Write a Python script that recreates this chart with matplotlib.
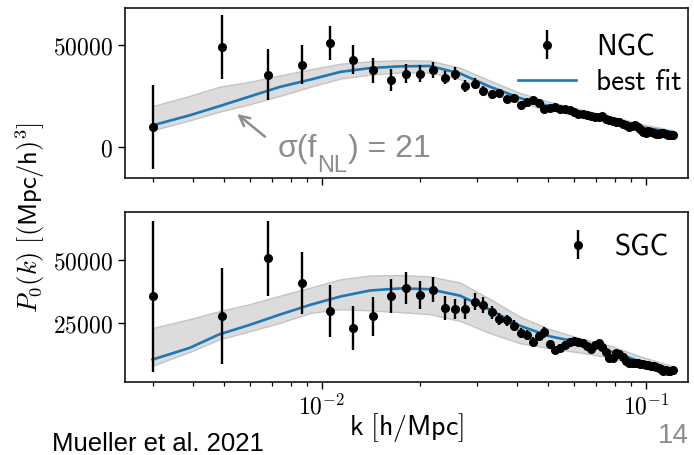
import numpy as np
import matplotlib
matplotlib.use('Agg')
import matplotlib.pyplot as plt
from matplotlib.ticker import FuncFormatter, LogLocator, NullFormatter

plt.rcParams['mathtext.fontset'] = 'cm'
plt.rcParams['font.family'] = ['DejaVu Sans']

# ---------------- data ----------------
k = [0.0030, 0.0049, 0.0068, 0.0087, 0.0106, 0.0125, 0.0144, 0.0163, 0.0182, 0.0201,
     0.0220, 0.0239, 0.0258, 0.0277, 0.0296, 0.0315, 0.0334, 0.0353, 0.0372, 0.0391,
     0.0410, 0.0429, 0.0448, 0.0467, 0.0486, 0.0505, 0.0524, 0.0543, 0.0562, 0.0581,
     0.0600, 0.0619, 0.0638, 0.0657, 0.0676, 0.0695, 0.0714, 0.0733, 0.0752, 0.0771,
     0.0790, 0.0809, 0.0828, 0.0847, 0.0866, 0.0885, 0.0904, 0.0923, 0.0942, 0.0961,
     0.0980, 0.0999, 0.1018, 0.1037, 0.1056, 0.1075, 0.1094, 0.1113, 0.1132, 0.1151,
     0.1170, 0.1189, 0.1208]

ngc_p = [9800, 49000, 35500, 40400, 51000, 42800, 37600, 32700, 36000, 36000,
         37600, 34000, 36000, 29700, 31000, 27400, 25800, 26500, 23700, 24200,
         20400, 22000, 22900, 21600, 18800, 19300, 19800, 18800, 18800, 18300,
         17000, 16000, 16000, 15600, 15000, 14500, 14500, 15000, 13900, 13300,
         12900, 12300, 12000, 11400, 11000, 10000, 10300, 10600, 9800, 8800,
         7400, 7000, 7600, 7400, 6800, 6600, 6600, 6700, 6900, 6500,
         6000, 5700, 5700]
ngc_err = [20800, 15500, 12400, 9600, 8300, 7100, 6200, 5500, 4800, 4300,
           4000, 3300, 3300, 2900, 2600, 2400, 2200, 2100, 2000, 1900,
           1800, 1700, 1600, 1500, 1450, 1400, 1350, 1300, 1250, 1200,
           1150, 1100, 1100, 1050, 1000, 1000, 950, 950, 900, 900,
           900, 850, 850, 850, 800, 800, 800, 750, 750, 750,
           700, 700, 700, 700, 650, 650, 650, 650, 600, 600,
           600, 600, 600]

sgc_p = [35500, 27900, 50600, 40800, 29800, 23000, 27600, 35800, 38800, 36200,
         38200, 30900, 30500, 30500, 33500, 32200, 29200, 26600, 26000, 23900,
         21000, 20400, 17500, 19700, 21300, 16500, 14200, 15200, 16300, 17300,
         17700, 17600, 17000, 16000, 14500, 16200, 16900, 15600, 13600, 11200,
         11000, 13200, 12800, 11500, 10000, 9300, 9300, 9100, 9000, 8800,
         8700, 8500, 8200, 8000, 7800, 7600, 7100, 6800, 6000, 6200,
         6000, 5800, 6200]
sgc_err = [30000, 19000, 14900, 12200, 10300, 8700, 7700, 6800, 6300, 5600,
           4900, 4600, 4100, 4000, 3300, 3200, 2600, 2400, 2300, 2200,
           2100, 2000, 1900, 1800, 2300, 1700, 1650, 1600, 1550, 1500,
           1450, 1400, 1350, 1300, 1250, 1200, 1200, 1150, 1100, 1100,
           1050, 1000, 1000, 950, 950, 900, 900, 900, 850, 850,
           800, 800, 800, 750, 750, 750, 700, 700, 700, 700,
           650, 650, 650]

model_k = [0.0030, 0.0039, 0.0048, 0.0060, 0.0074, 0.0092, 0.0114, 0.0141, 0.0174,
           0.0215, 0.0267, 0.0330, 0.0408, 0.0505, 0.0625, 0.0774, 0.0958, 0.1212]
ngc_fit = [10600, 15500, 19900, 24800, 29400, 33000, 36800, 38700, 39500,
           39700, 36000, 29500, 24000, 19900, 16700, 13600, 9800, 7200]
ngc_hi = [20000, 25000, 29400, 32000, 35000, 38000, 40800, 42000, 42500,
          42300, 38800, 32500, 26500, 22000, 18500, 15200, 11300, 8200]
ngc_lo = [8200, 13000, 17200, 21000, 25000, 29500, 33500, 35500, 36500,
          36500, 33200, 26500, 21500, 18000, 15000, 12000, 8300, 6000]
sgc_fit = [10500, 15100, 20400, 24300, 28300, 32200, 35500, 37900, 38700,
           38400, 35800, 30250, 23900, 19700, 17300, 13800, 9800, 6550]
sgc_hi = [23000, 26500, 29600, 32500, 35800, 39000, 42300, 43800, 44000,
          43500, 41000, 34500, 27500, 22500, 19000, 16000, 11800, 7800]
sgc_lo = [8100, 13500, 18400, 21800, 25000, 29000, 30500, 30000, 29300,
          28500, 25800, 21000, 17000, 15000, 13300, 11300, 8300, 5700]

ngc_yticks = [0, 50000]
sgc_yticks = [25000, 50000]

# ---------------- figure ----------------
W, H = 694, 455
fig = plt.figure(figsize=(W / 100, H / 100), dpi=100)
ax1 = fig.add_axes([125 / W, 1 - 178 / H, 563 / W, 170 / H])
ax2 = fig.add_axes([125 / W, 1 - 382 / H, 563 / W, 170 / H], sharex=ax1)

blue = '#1f77b4'
band_c = '#dcdcdc'
grey = '#8c8c8c'
sans = {'family': 'cmss10', 'size': 21}


def panel(ax, p, err, fit, lo, hi, label):
    ax.fill_between(model_k, lo, hi, facecolor=band_c, edgecolor='#c4c4c4',
                    linewidth=1.0, zorder=1)
    ln, = ax.plot(model_k, fit, color=blue, lw=1.9, zorder=2, label='best fit')
    eb = ax.errorbar(k, p, yerr=err, fmt='o', color='k', ms=5.5, elinewidth=1.7,
                     capsize=0, zorder=3, label=label)
    ax.set_xscale('log')
    for s in ax.spines.values():
        s.set_linewidth(1.1)
    ax.tick_params(axis='both', which='major', direction='out', length=5, width=1.0,
                   labelsize=17)
    ax.tick_params(axis='x', which='minor', direction='out', length=3, width=0.9)
    return eb, ln


eb1, ln1 = panel(ax1, ngc_p, ngc_err, ngc_fit, ngc_lo, ngc_hi, 'NGC')
eb2, ln2 = panel(ax2, sgc_p, sgc_err, sgc_fit, sgc_lo, sgc_hi, 'SGC')

ax1.set_xlim(0.002466, 0.1348)
ax1.set_ylim(-15200, 68100)
ax2.set_ylim(1600, 69000)
ax1.set_yticks(ngc_yticks)
ax2.set_yticks(sgc_yticks)
yfmt = FuncFormatter(lambda v, pos: r'$%d$' % int(round(v)))
ax1.yaxis.set_major_formatter(yfmt)
ax2.yaxis.set_major_formatter(yfmt)
ax2.xaxis.set_major_locator(LogLocator(base=10))
ax2.xaxis.set_minor_locator(LogLocator(base=10, subs=np.arange(2, 10)))
ax2.xaxis.set_major_formatter(FuncFormatter(lambda v, pos: r'$10^{%d}$' % int(round(np.log10(v)))))
ax2.xaxis.set_minor_formatter(NullFormatter())
plt.setp(ax1.get_xticklabels(), visible=False)

leg1 = ax1.legend([eb1, ln1], ['NGC', 'best fit'], loc='upper right', frameon=False,
                  prop=sans, handlelength=2.0, handletextpad=0.7, labelspacing=0.28,
                  bbox_to_anchor=(0.9893, 0.847), borderaxespad=0, borderpad=0)
leg2 = ax2.legend([eb2], ['SGC'], loc='upper right', frameon=False, prop=sans,
                  handlelength=1.3, handletextpad=0.6, bbox_to_anchor=(0.966, 0.870),
                  borderaxespad=0, borderpad=0)

# annotation sigma(fNL)
ax1.annotate('', xy=(0.00539, 17000), xytext=(0.00677, 4200),
             arrowprops=dict(arrowstyle='->', color=grey, lw=1.8,
                             mutation_scale=18))
t1 = ax1.text(0.00732, -5000, 'σ(f', fontsize=23, color=grey,
              family='Liberation Sans', va='baseline', ha='left')
t2 = ax1.annotate('NL', xy=(1, 0), xycoords=t1, xytext=(0, -9),
                  textcoords='offset points', fontsize=17, color=grey,
                  family='Liberation Sans', va='bottom', ha='left')
t3 = ax1.annotate(') = 21', xy=(1, 0), xycoords=t2, xytext=(0, 9),
                  textcoords='offset points', fontsize=23, color=grey,
                  family='Liberation Sans', va='bottom', ha='left')

# labels
fig.text(30 / W, 1 - 217 / H, r'$P_0(k)\ [(\mathsf{Mpc/h})^3]$', rotation=90,
         ha='center', va='center', fontsize=19)
fig.text(406 / W, 1 - 428 / H, r'$\mathsf{k}\ [\mathsf{h/Mpc}]$', ha='center',
         va='center', fontsize=20)
fig.text(52 / W, 1 - 451 / H, 'Mueller et al. 2021', family='Liberation Sans',
         fontsize=18.5, ha='left', va='baseline')
fig.text(658 / W, 1 - 443 / H, '14', family='Liberation Sans', fontsize=20,
         color=grey, ha='left', va='baseline')

fig.savefig('out.png', dpi=100)
